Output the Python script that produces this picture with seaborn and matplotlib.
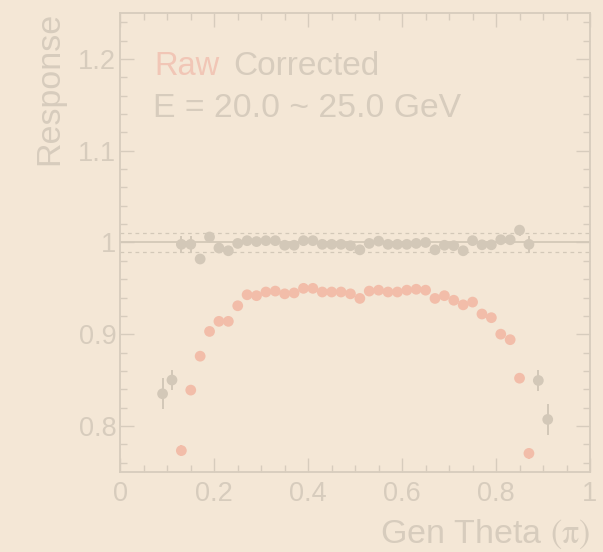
import numpy as np
import pandas as pd
import matplotlib
matplotlib.use("Agg")
import matplotlib.pyplot as plt
from matplotlib.ticker import MultipleLocator
import seaborn as sns

# Bin centres (in units of pi) and response per bin
theta_raw = [0.13, 0.15, 0.17, 0.19, 0.21, 0.23, 0.25, 0.27, 0.29, 0.31,
             0.33, 0.35, 0.37, 0.39, 0.41, 0.43, 0.45, 0.47, 0.49, 0.51,
             0.53, 0.55, 0.57, 0.59, 0.61, 0.63, 0.65, 0.67, 0.69, 0.71,
             0.73, 0.75, 0.77, 0.79, 0.81, 0.83, 0.85, 0.87]
resp_raw = [0.773, 0.839, 0.876, 0.903, 0.914, 0.914, 0.931, 0.943, 0.942, 0.946,
            0.947, 0.944, 0.945, 0.950, 0.950, 0.946, 0.946, 0.946, 0.944, 0.939,
            0.947, 0.948, 0.946, 0.946, 0.948, 0.949, 0.948, 0.939, 0.942, 0.937,
            0.932, 0.935, 0.922, 0.918, 0.900, 0.894, 0.852, 0.770]
err_raw = [0.006] + [0.003] * 36 + [0.006]

theta_corr = [0.09, 0.11] + theta_raw + [0.89, 0.91]
resp_corr = [0.835, 0.850,
             0.998, 0.998, 0.982, 1.006, 0.994, 0.991, 0.999, 1.002, 1.001, 1.002,
             1.002, 0.997, 0.997, 1.002, 1.002, 0.998, 0.998, 0.998, 0.9965, 0.992,
             0.999, 1.0015, 0.998, 0.998, 0.998, 0.999, 1.000, 0.992, 0.997, 0.9965,
             0.991, 1.002, 0.9975, 0.9975, 1.003, 1.003, 1.0135, 0.998,
             0.8495, 0.807]
err_corr = [0.017, 0.011, 0.009, 0.009] + [0.003] * 34 + [0.006, 0.009, 0.0115, 0.017]

x_ticks = [0, 0.2, 0.4, 0.6, 0.8, 1]
x_tick_labels = ["0", "0.2", "0.4", "0.6", "0.8", "1"]
y_ticks = [0.8, 0.9, 1.0, 1.1, 1.2]
y_tick_labels = ["0.8", "0.9", "1", "1.1", "1.2"]

BG = "#f4e7d6"
FG = "#d7ccbd"
RAW = "#f2bda9"
CORR = "#d3c8b8"

sns.set_theme(style="ticks")
plt.rcParams["font.family"] = ["Liberation Sans", "DejaVu Sans"]
plt.rcParams["mathtext.fontset"] = "stix"

df = pd.concat([
    pd.DataFrame({"theta": theta_raw, "response": resp_raw, "err": err_raw, "kind": "Raw"}),
    pd.DataFrame({"theta": theta_corr, "response": resp_corr, "err": err_corr, "kind": "Corrected"}),
], ignore_index=True)
palette = {"Raw": RAW, "Corrected": CORR}

fig = plt.figure(figsize=(6.03, 5.52), dpi=100, facecolor=BG)
ax = fig.add_axes([120.3 / 603, 1 - 471.7 / 552, 469.7 / 603, 458.4 / 552])
ax.set_facecolor(BG)

# reference lines at unity and +-1%
ax.axhline(1.0, color=CORR, lw=1.3, zorder=1)
for lvl in (0.99, 1.01):
    ax.axhline(lvl, color=CORR, lw=0.9, ls=(0, (3, 3)), zorder=1)

for kind in ("Raw", "Corrected"):
    sub = df[df["kind"] == kind]
    ax.errorbar(sub["theta"], sub["response"], yerr=sub["err"], fmt="none",
                ecolor=palette[kind], elinewidth=1.4, capsize=0, zorder=2)

sns.scatterplot(data=df, x="theta", y="response", hue="kind", palette=palette,
                hue_order=["Raw", "Corrected"], s=60, linewidth=0, alpha=1,
                legend=False, ax=ax, zorder=3)

ax.set_xlim(0, 1)
ax.set_ylim(0.75, 1.25)
ax.set_xticks(x_ticks)
ax.set_xticklabels(x_tick_labels)
ax.set_yticks(y_ticks)
ax.set_yticklabels(y_tick_labels)
ax.xaxis.set_minor_locator(MultipleLocator(0.05))
ax.yaxis.set_minor_locator(MultipleLocator(0.02))
ax.tick_params(which="both", direction="in", top=True, right=True,
               color=FG, labelcolor=FG, labelsize=19.5, width=1.0)
ax.tick_params(axis="x", which="major", length=10, pad=7)
ax.tick_params(axis="y", which="major", length=10, pad=3)
ax.tick_params(which="minor", length=5)
for sp in ax.spines.values():
    sp.set_color(FG)
    sp.set_linewidth(1.3)

ax.set_xlabel("")
ax.set_ylabel("")
fig.text(590 / 603, 1 - 543 / 552, r"Gen Theta $\mathrm{(\pi)}$", ha="right",
         va="baseline", fontsize=24.5, color=FG)
fig.text(50 / 603, 1 - 12 / 552, "Response", rotation=90, ha="center", va="top",
         fontsize=24.5, color=FG)

ax.text(0.0717, 0.8654, "Raw", transform=ax.transAxes, fontsize=23.5,
        color="#f1c6b6", va="baseline", ha="left")
ax.text(0.240, 0.8654, "Corrected", transform=ax.transAxes, fontsize=24,
        color=FG, va="baseline", ha="left")
ax.text(0.0695, 0.7738, "E = 20.0 ~ 25.0 GeV", transform=ax.transAxes,
        fontsize=24.3, color=FG, va="baseline", ha="left")

fig.savefig("out.png", dpi=100, facecolor=BG)
